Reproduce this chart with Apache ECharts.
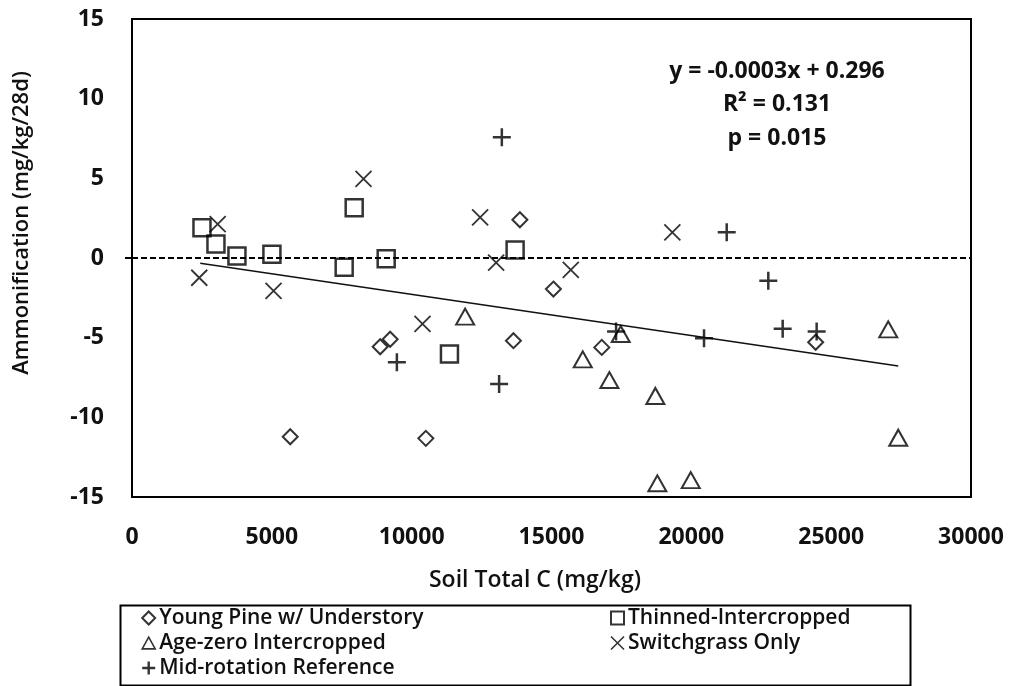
<!DOCTYPE html>
<html>
<head>
<meta charset="utf-8">
<script src="https://cdn.jsdelivr.net/npm/echarts@6/dist/echarts.min.js"></script>
<style>
html,body{margin:0;padding:0;background:#fff;}
#c{width:1010px;height:686px;}
</style>
</head>
<body>
<div id="c"></div>
<script>
// ---- data ----
const xTicks = [0, 5000, 10000, 15000, 20000, 25000, 30000];
const yTicks = [-15, -10, -5, 0, 5, 10, 15];

const youngPine = [
  [13870, 2.40], [9231, -5.10], [8874, -5.57], [13639, -5.19], [5658, -11.22],
  [10507, -11.32], [15068, -1.95], [16798, -5.61], [24446, -5.29]
];
const thinned = [
  [2502, 1.90], [3002, 0.88], [3753, 0.13], [5003, 0.23], [7945, 3.16],
  [9089, -0.05], [13699, 0.50], [7587, -0.58], [11351, -6.03]
];
const ageZero = [
  [11912, -3.68], [16118, -6.36], [17475, -4.77], [17070, -7.66], [18714, -8.66],
  [27041, -4.48], [27398, -11.28], [18785, -14.14], [19979, -13.94]
];
const switchgrass = [
  [3063, 2.13], [8278, 4.96], [12448, 2.55], [13020, -0.29], [19321, 1.61],
  [2405, -1.24], [5061, -2.07], [10387, -4.14], [15690, -0.75]
];
const midRotation = [
  [13224, 7.58], [21265, 1.61], [9471, -6.55], [13127, -7.91], [22752, -1.42],
  [17309, -4.62], [20454, -5.04], [23266, -4.44], [24481, -4.62]
];
const trendLine = [[2440, -0.33], [27400, -6.78]];
const zeroLineValue = 0;

const seriesNames = ['Young Pine w/ Understory', 'Thinned-Intercropped', 'Age-zero Intercropped', 'Switchgrass Only', 'Mid-rotation Reference'];
const annotationLines = ['y = -0.0003x + 0.296', 'R² = 0.131', 'p = 0.015'];
const xTitle = 'Soil Total C (mg/kg)';
const yTitle = 'Ammonification (mg/kg/28d)';

// ---- styles ----
const FONT = 'Open Sans';
const sym = {
  diamond: 'path://M5,0 L10,5 L5,10 L0,5 Z',
  square: 'path://M0,0 L10,0 L10,10 L0,10 Z',
  triangle: 'path://M5,0 L10,9 L0,9 Z',
  cross: 'path://M0,0 L10,10 M10,0 L0,10',
  plus: 'path://M5,0 L5,10 M0,5 L10,5'
};
const hollow = (w) => ({ color: 'rgba(0,0,0,0)', borderColor: '#000', borderWidth: w });

function scatter(name, data, symbol, size, bw) {
  return {
    name: name, type: 'scatter', data: data, symbol: symbol, symbolSize: size,
    itemStyle: hollow(bw), z: 3, silent: true
  };
}

const chart = echarts.init(document.getElementById('c'), null, { renderer: 'canvas' });

const GL = 132, GT = 19, GW = 839, GH = 478;

const legendText = { fontFamily: FONT, fontSize: 21, fontWeight: 600, color: '#111', lineHeight: 22, padding: [0, 0, 0, -1] };

chart.setOption({
  animation: false,
  backgroundColor: '#fff',
  grid: { left: GL, top: GT, width: GW, height: GH, show: true, borderColor: '#000', borderWidth: 2, backgroundColor: 'transparent' },
  xAxis: {
    type: 'value', min: xTicks[0], max: xTicks[xTicks.length - 1], interval: 5000,
    axisLine: { show: false }, axisTick: { show: false }, splitLine: { show: false },
    axisLabel: { margin: 29, fontFamily: FONT, fontSize: 23, fontWeight: 'bold', color: '#111', formatter: (v) => String(v) }
  },
  yAxis: {
    type: 'value', min: yTicks[0], max: yTicks[yTicks.length - 1], interval: 5,
    axisLine: { show: false },
    axisTick: { show: true, customValues: [0], length: 7, lineStyle: { color: '#000', width: 2 } },
    splitLine: { show: false },
    axisLabel: { margin: 28, fontFamily: FONT, fontSize: 23, fontWeight: 'bold', color: '#111', formatter: (v) => String(v) }
  },
  legend: [
    {
      left: 141, top: 607, height: 80, padding: 0, orient: 'vertical', itemGap: 3, itemWidth: 13, itemHeight: 13,
      textStyle: legendText, selectedMode: false,
      data: [
        { name: seriesNames[0], icon: sym.diamond, itemStyle: hollow(2) },
        { name: seriesNames[2], icon: sym.triangle, itemStyle: hollow(1.6) },
        { name: seriesNames[4], icon: sym.plus, itemStyle: hollow(2.4) }
      ]
    },
    {
      left: 610, top: 607, height: 80, padding: 0, orient: 'vertical', itemGap: 3, itemWidth: 13, itemHeight: 13,
      textStyle: legendText, selectedMode: false,
      data: [
        { name: seriesNames[1], icon: sym.square, itemStyle: hollow(2) },
        { name: seriesNames[3], icon: sym.cross, itemStyle: hollow(1.6) }
      ]
    }
  ],
  graphic: [
    { type: 'rect', left: 118, top: 603, shape: { width: 790, height: 80 }, style: { fill: 'none', stroke: '#000', lineWidth: 2 }, z: 10 },
    { type: 'text', x: 535, y: 580, style: { text: xTitle, font: '600 23px "Open Sans"', fill: '#111', align: 'center', verticalAlign: 'middle' } },
    { type: 'text', x: 22, y: 223, rotation: Math.PI / 2, style: { text: yTitle, font: '600 22px "Open Sans"', fill: '#111', align: 'center', verticalAlign: 'middle' } },
    { type: 'text', x: 777, y: 71, style: { text: annotationLines[0], font: 'bold 23px "Open Sans"', fill: '#111', align: 'center', verticalAlign: 'middle' } },
    { type: 'text', x: 777, y: 104, style: { text: annotationLines[1], font: 'bold 23px "Open Sans"', fill: '#111', align: 'center', verticalAlign: 'middle' } },
    { type: 'text', x: 777, y: 138, style: { text: annotationLines[2], font: 'bold 23px "Open Sans"', fill: '#111', align: 'center', verticalAlign: 'middle' } }
  ],
  series: [
    scatter(seriesNames[0], youngPine, sym.diamond, 15, 2),
    scatter(seriesNames[1], thinned, sym.square, 17, 2.5),
    scatter(seriesNames[2], ageZero, sym.triangle, [18, 16], 2),
    scatter(seriesNames[3], switchgrass, sym.cross, 16, 1.8),
    scatter(seriesNames[4], midRotation, sym.plus, 18, 2.5),
    {
      name: 'trend', type: 'line', data: trendLine, symbol: 'none', silent: true,
      lineStyle: { color: '#111', width: 1.5 }, z: 2,
      markLine: {
        silent: true, symbol: 'none', label: { show: false },
        lineStyle: { color: '#000', width: 2, type: [6, 3] },
        data: [{ yAxis: zeroLineValue }]
      }
    }
  ]
});
</script>
</body>
</html>
